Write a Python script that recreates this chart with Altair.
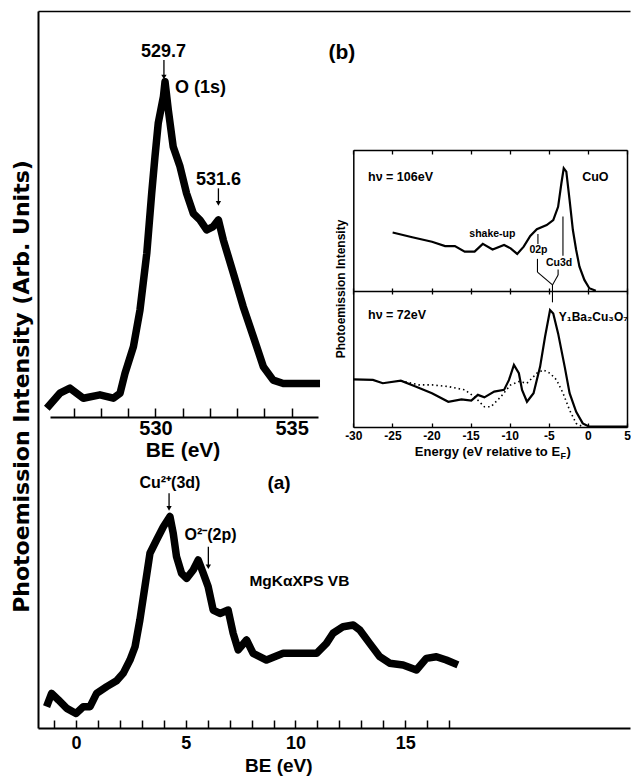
import altair as alt
import pandas as pd

# ---------------- data ----------------
# (a) MgKa XPS valence band: binding energy (eV) / intensity (arb. units)
vb_be = [-1.34, -1.11, -0.80, -0.42, 0.00, 0.33, 0.64, 0.94, 1.40, 1.85, 2.15, 2.46, 2.69,
         2.91, 3.14, 3.37, 3.67, 3.98, 4.28, 4.43, 4.58, 4.81, 5.04, 5.34, 5.57, 5.80, 6.02,
         6.25, 6.56, 6.93, 7.16, 7.39, 7.77, 8.07, 8.68, 9.44, 10.20, 10.96, 11.41, 11.71,
         12.17, 12.63, 12.93, 13.38, 13.84, 14.29, 14.90, 15.51, 15.96, 16.42, 16.87, 17.40]
vb_int = [10.1, 16.4, 13.3, 9.3, 6.9, 10.1, 10.1, 16.4, 19.6, 22.4, 25.9, 32.2, 38.5,
          51.2, 67.0, 82.8, 89.1, 95.4, 100.2, 92.3, 81.2, 73.3, 70.9, 74.9, 79.6, 73.3, 67.0,
          55.9, 54.3, 55.9, 44.9, 37.0, 41.7, 35.4, 32.2, 35.4, 35.4, 35.4, 40.1, 44.9,
          48.0, 48.8, 46.4, 40.1, 33.8, 30.7, 29.9, 27.5, 33.0, 33.8, 32.2, 29.9]

# (b) O 1s core level
o1s_be = [526.01, 526.49, 526.86, 527.35, 527.96, 528.45, 528.70, 528.88, 529.19, 529.43,
          529.68, 529.86, 529.98, 530.10, 530.29, 530.35, 530.47, 530.65, 530.90, 531.14,
          531.39, 531.63, 531.88, 532.12, 532.31, 532.49, 532.86, 533.22, 533.59, 533.96,
          534.32, 534.69, 535.30, 536.04]
o1s_int = [2.6, 7.1, 8.6, 5.6, 6.6, 5.6, 7.1, 13.0, 21.0, 31.9,
           48.8, 66.7, 77.6, 87.6, 95.5, 100.0, 91.6, 80.6, 74.7, 66.7,
           60.7, 58.8, 55.8, 56.8, 58.8, 52.8, 42.8, 32.9, 24.0, 15.0,
           11.0, 10.0, 10.0, 10.0]

# inset: CuO (hv = 106 eV)
cuo_e = [-24.97, -22.46, -19.94, -18.26, -17.01, -15.75, -14.49, -13.44, -12.19, -10.72,
         -9.88, -9.04, -8.21, -7.37, -6.53, -5.27, -4.43, -3.81, -3.39, -3.09,
         -2.76, -2.34, -1.92, -1.50, -1.08, -0.45, 0.18, 1.01]
cuo_int = [70.2, 68.5, 66.9, 65.3, 65.3, 63.3, 63.3, 66.1, 64.1, 65.7,
           64.5, 62.5, 65.1, 69.0, 71.4, 72.9, 74.7, 79.5, 88.0, 93.4,
           92.2, 81.9, 71.1, 63.9, 57.9, 53.1, 50.1, 49.2]

# inset: Y1Ba2Cu3O7 (hv = 72 eV), solid
ybco_e = [-30.0, -27.49, -26.23, -23.92, -22.04, -19.94, -17.85, -16.17, -14.91, -14.07,
          -13.24, -11.98, -10.72, -10.09, -9.46, -8.83, -8.42, -7.79, -6.95, -6.11,
          -5.48, -4.84, -4.43, -3.81, -2.97, -2.34, -1.50, -0.66, 0.18, 5.0]
ybco_int = [17.2, 17.0, 15.8, 16.7, 14.6, 12.2, 9.1, 10.0, 9.5, 11.6,
            10.7, 12.8, 13.4, 17.0, 22.4, 19.4, 13.4, 9.1, 12.2, 21.8,
            32.6, 42.2, 41.0, 33.8, 21.8, 12.2, 5.5, 1.3, 0.1, 0.1]

# inset: dotted curve
dot_e = [-23.92, -21.62, -19.94, -17.85, -15.75, -14.49, -13.24, -12.40, -11.14, -9.88,
         -8.83, -7.79, -6.53, -5.69, -4.84, -4.01, -3.18, -2.34, -1.50, -0.66]
dot_int = [16.7, 15.2, 15.2, 14.6, 13.4, 10.9, 7.3, 7.3, 10.9, 15.2,
           16.4, 15.8, 19.4, 20.6, 19.4, 17.0, 12.2, 6.1, 1.3, 0.1]

# axis ticks / labels
a_ticks = list(range(-1, 18))
a_labels = [0, 5, 10, 15]
b_ticks = list(range(526, 537))
b_labels = [530, 535]
in_ticks = [-30, -25, -20, -15, -10, -5, 0, 5]

# annotations (data coordinates of each panel)
a_arrow_x = [4.24, 6.03]
a_arrow_y1 = [111.2, 85.9]
a_arrow_y2 = [104.1, 76.4]
b_arrow_x = [530.31, 532.31]
b_arrow_y1 = [106.5, 68.2]
b_arrow_y2 = [101.4, 63.7]
seg_x1 = [-6.39, -6.45, -6.45, -3.19, -3.81, -3.81, -4.53]
seg_y1 = [69.7, 60.7, 55.9, 76.0, 56.9, 54.9, 51.3]
seg_x2 = [-6.39, -6.45, -4.53, -3.19, -3.81, -4.53, -4.53]
seg_y2 = [66.1, 55.9, 51.3, 61.8, 54.9, 51.3, 45.0]

# ---------------- layout ----------------
W, H = 592, 717
FONT = "Liberation Sans"
IN_L, IN_R = 315.3, 589


def S(domain, rng):
    return alt.Scale(domain=domain, range=rng, nice=False, zero=False)


A_X = S([-1.731, 25.24], [0, W])
A_Y = S([0, 339.8], [H, 0])
B_X = S([526.127, 535.966], [12, 280])
B_Y = S([0, 100], [406, 70.7])
I_X = S([-30, 5], [IN_L, IN_R])
I_Y = S([0, 100], [416, 139])


def AX(orient, offset, **kw):
    base = dict(orient=orient, offset=offset, grid=False, labels=False, ticks=False,
                domain=False, tickSize=0, title=None, labelFlush=False, labelOverlap=False)
    base.update(kw)
    return alt.Axis(**base)


def xy(xs, ys, xaxis=None, yaxis=None):
    return dict(x=alt.X("x:Q", scale=xs, axis=xaxis), y=alt.Y("y:Q", scale=ys, axis=yaxis))


def line(xv, yv, xs, ys, xaxis=None, yaxis=None, **mk):
    df = pd.DataFrame({"x": xv, "y": yv})
    return alt.Chart(df).mark_line(color="black", **mk).encode(**xy(xs, ys, xaxis, yaxis))


def text(xv, yv, labels, xs, ys, size, align="center", xaxis=None, yaxis=None, **mk):
    df = pd.DataFrame({"x": xv, "y": yv, "t": labels})
    return alt.Chart(df).mark_text(align=align, baseline="middle", fontSize=size,
                                   fontWeight="bold", font=FONT, color="black", **mk).encode(
        text="t:N", **xy(xs, ys, xaxis, yaxis))


def rules(x1, y1, x2, y2, xs, ys, xaxis=None, width=1.3):
    df = pd.DataFrame({"x": x1, "y": y1, "x2": x2, "y2": y2})
    return alt.Chart(df).mark_rule(color="black", strokeWidth=width).encode(
        x2="x2:Q", y2="y2:Q", **xy(xs, ys, xaxis, None))


def heads(xv, yv, xs, ys):
    df = pd.DataFrame({"x": xv, "y": yv})
    return alt.Chart(df).mark_point(shape="triangle-down", filled=True, size=28,
                                    color="black", opacity=1).encode(**xy(xs, ys))


layers = []

# ---- panel (a): outer frame ----
layers.append(line(vb_be, vb_int, A_X, A_Y,
                   xaxis=AX("bottom", 0, values=a_labels, labels=True, domain=True,
                            domainWidth=2, labelFontSize=18, labelPadding=6,
                            title="BE (eV)", titleFontSize=19, titleX=240.3, titleY=37,
                            titleBaseline="middle"),
                   yaxis=AX("left", 0, domain=True, domainWidth=2,
                            title="Photoemission Intensity (Arb. Units)", titleFontSize=22,
                            titleFont="DejaVu Sans", titleX=-17, titleY=375,
                            titleBaseline="middle", titleAlign="center", titleAngle=270),
                   strokeWidth=7.5, strokeJoin="round"))
layers.append(text([4.28, 6.13], [116.0, 91.5], ["Cu\u00b2\u207a(3d)", "O\u00b2\u207b(2p)"],
                   A_X, A_Y, 16, xaxis=AX("top", 0, domain=True, domainWidth=1.5)))
layers.append(text([9.25], [116.0], ["(a)"], A_X, A_Y, 19))
layers.append(text([7.90], [69.8], ["MgK\u03b1XPS VB"], A_X, A_Y, 15.5, align="left"))
layers.append(rules(a_arrow_x, a_arrow_y1, a_arrow_x, a_arrow_y2, A_X, A_Y,
                    xaxis=AX("top", -H, values=a_ticks, ticks=True, tickSize=8, tickWidth=1.5)))
layers.append(heads(a_arrow_x, a_arrow_y2, A_X, A_Y))

# ---- panel (b): O 1s ----
layers.append(line(o1s_be, o1s_int, B_X, B_Y,
                   xaxis=AX("bottom", 406 - H, values=b_labels, labels=True, domain=True,
                            domainWidth=2, labelFontSize=20, labelPadding=1,
                            title="BE (eV)", titleFontSize=21, titleX=144.5, titleY=33,
                            titleBaseline="middle"),
                   strokeWidth=7.5, strokeJoin="round"))
layers.append(text([530.29, 532.31], [108.9, 70.7], ["529.7", "531.6"], B_X, B_Y, 18,
                   xaxis=AX("top", -406, values=b_ticks, ticks=True, tickSize=9, tickWidth=1.5)))
layers.append(text([530.72], [98.0], ["O (1s)"], B_X, B_Y, 18, align="left"))
layers.append(text([536.84], [108.5], ["(b)"], B_X, B_Y, 21))
layers.append(rules(b_arrow_x, b_arrow_y1, b_arrow_x, b_arrow_y2, B_X, B_Y))
layers.append(heads(b_arrow_x, b_arrow_y2, B_X, B_Y))

# ---- inset ----
lab_expr = "'' + datum.value"
layers.append(line(cuo_e, cuo_int, I_X, I_Y,
                   xaxis=AX("bottom", 416 - H, values=in_ticks, labels=True, domain=True,
                            domainWidth=1.5, labelFontSize=12, labelPadding=3,
                            labelExpr=lab_expr),
                   yaxis=AX("left", -IN_L, domain=True, domainWidth=1.5,
                            title="Photoemission Intensity", titleFontSize=12,
                            titleX=-13.3, titleY=277.5, titleBaseline="middle",
                            titleAlign="center", titleAngle=270),
                   strokeWidth=2.2))
layers.append(line(ybco_e, ybco_int, I_X, I_Y,
                   xaxis=AX("top", -416, values=in_ticks, ticks=True, tickSize=4, tickWidth=1.3),
                   yaxis=AX("right", IN_R - W, domain=True, domainWidth=1.5),
                   strokeWidth=2.2))
layers.append(line(dot_e, dot_int, I_X, I_Y,
                   xaxis=AX("bottom", 139 - H, values=in_ticks, ticks=True, tickSize=4,
                            tickWidth=1.3, domain=True, domainWidth=1.5),
                   strokeWidth=1.6, strokeDash=[1.5, 3]))
layers.append(rules(seg_x1, seg_y1, seg_x2, seg_y2, I_X, I_Y,
                    xaxis=AX("bottom", 280 - H, values=in_ticks, ticks=True, tickSize=3,
                             tickWidth=1.3, domain=True, domainWidth=1.5), width=1.1))
layers.append(text([-28.12, -28.12], [90.4, 40.4], ["h\u03bd = 106eV", "h\u03bd = 72eV"],
                   I_X, I_Y, 12.5, align="left",
                   xaxis=AX("top", -280, values=in_ticks, ticks=True, tickSize=3, tickWidth=1.3)))
layers.append(text([-3.73], [39.8], ["Y\u2081Ba\u2082Cu\u2083O\u2087"], I_X, I_Y, 12, align="left"))
layers.append(text([0.95], [90.4], ["CuO"], I_X, I_Y, 12.5))
layers.append(text([-12.22, -6.32, -3.69], [69.7, 63.9, 59.1], ["shake-up", "02p", "Cu3d"],
                   I_X, I_Y, 10.5))
layers.append(text([-3.56], [-8.9], ["Energy (eV relative to E"], I_X, I_Y, 13, align="right"))
layers.append(text([-3.56], [-8.9], ["F"], I_X, I_Y, 9, align="left", dx=0.5, dy=4))
layers.append(text([-3.56], [-8.9], [")"], I_X, I_Y, 13, align="left", dx=6.5))

chart = (
    alt.layer(*layers)
    .resolve_scale(x="independent", y="independent")
    .properties(width=W, height=H, padding={"left": 30, "top": 3, "right": 1, "bottom": 48},
                autosize=alt.AutoSizeParams(type="none"))
    .configure(font=FONT)
    .configure_view(stroke=None)
    .configure_axis(grid=False, domainColor="black", tickColor="black", labelColor="black",
                    titleColor="black", labelFont=FONT, titleFont=FONT,
                    labelFontWeight="bold", titleFontWeight="bold")
)

chart.save("out.html", embed_options={"renderer": "svg", "actions": False})
